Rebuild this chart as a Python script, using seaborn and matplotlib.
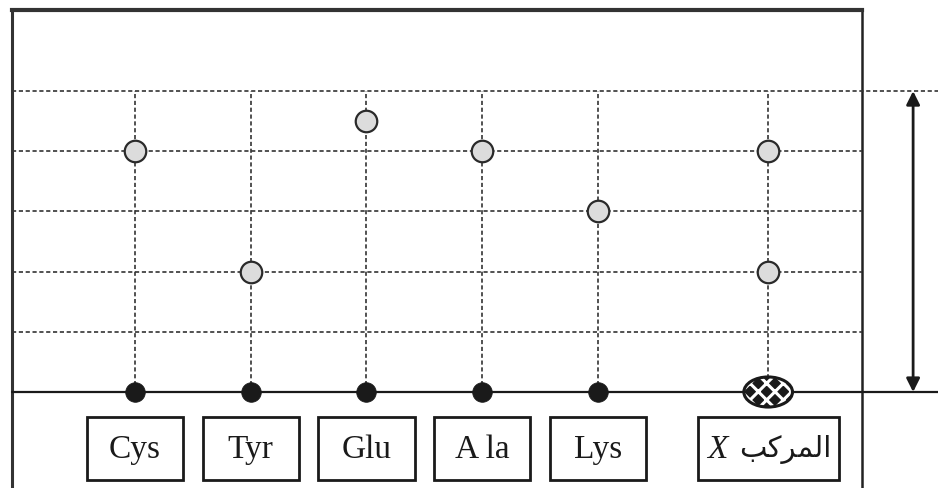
import numpy as np
import pandas as pd
import seaborn as sns
import matplotlib.pyplot as plt
from matplotlib.patches import Ellipse, Rectangle

# amino acid standards and the unknown compound X
amino_acids = ["Cys", "Tyr", "Glu", "Ala", "Lys"]
box_labels = ["Cys", "Tyr", "Glu", "A la", "Lys"]
rf_standards = [0.8, 0.4, 0.9, 0.8, 0.6]
unknown_label = "X"
unknown_arabic = "المركب"
rf_unknown = [0.8, 0.4]
grid_levels = [0.2, 0.4, 0.6, 0.8, 1.0]

sns.set_theme(style="white")
plt.rcParams["font.family"] = ["Liberation Serif", "DejaVu Sans"]
plt.rcParams["hatch.linewidth"] = 2.2

# x positions: standards side by side, the unknown a bit further right
xpos = np.arange(len(amino_acids), dtype=float)
x_unknown = len(amino_acids) - 1 + 1.47

std = pd.DataFrame({"aa": amino_acids, "x": xpos, "rf": rf_standards})
unk = pd.DataFrame({"x": [x_unknown] * len(rf_unknown), "rf": rf_unknown})

fig = plt.figure(figsize=(9.38, 4.89), dpi=100)
ax = fig.add_axes([0, 0, 1, 1])
ax.set_xlim(-1.166, 6.937)
ax.set_ylim(-0.319, 1.306)
ax.axis("off")

ink = "#1a1a1a"
frame_l, frame_r, frame_t = -1.063, 6.281, 1.269

# paper frame
ax.plot([frame_l, frame_l], [-0.4, frame_t], color="#333", lw=2.2, solid_capstyle="butt")
ax.plot([frame_r, frame_r], [-0.4, frame_t], color="#222", lw=1.8, solid_capstyle="butt")
ax.plot([frame_l, frame_r], [frame_t, frame_t], color="#333", lw=3, solid_capstyle="projecting")

# dashed grid
for lv in grid_levels:
    right = 7.0 if lv == 1.0 else frame_r
    ax.plot([frame_l, right], [lv, lv], color="#333", lw=1.2, dashes=(2.5, 1.6))
for x in list(xpos) + [x_unknown]:
    ax.plot([x, x], [0, 1.0], color="#333", lw=1.2, dashes=(2.5, 1.6))

# baseline
ax.plot([frame_l, 7.0], [0, 0], color=ink, lw=1.6)

# solvent front arrow
ax.annotate("", xy=(6.722, 1.0), xytext=(6.722, 0.0),
            arrowprops=dict(arrowstyle="<|-|>", color=ink, lw=2,
                            mutation_scale=20, shrinkA=0, shrinkB=0))

# spots
sns.scatterplot(data=std, x="x", y=np.zeros(len(std)), ax=ax, s=200,
                color=ink, edgecolor=ink, linewidth=0.5, zorder=5)
sns.scatterplot(data=std, x="x", y="rf", ax=ax, s=240, color="#dcdcdc",
                edgecolor="#2a2a2a", linewidth=1.6, zorder=5)
sns.scatterplot(data=unk, x="x", y="rf", ax=ax, s=240, color="#dcdcdc",
                edgecolor="#2a2a2a", linewidth=1.6, zorder=5)

# mixed origin spot of X
ax.add_patch(Ellipse((x_unknown, 0), 0.42, 0.1, facecolor=ink, edgecolor="white",
                     hatch="xx", lw=0, zorder=5))
ax.add_patch(Ellipse((x_unknown, 0), 0.42, 0.1, fill=False, edgecolor=ink,
                     lw=2.2, zorder=6))

# label boxes
box_top, box_bot = -0.083, -0.292
box_mid = (box_top + box_bot) / 2
for x, lab in zip(xpos, box_labels):
    ax.add_patch(Rectangle((x - 0.415, box_bot), 0.83, box_top - box_bot,
                           fill=False, edgecolor=ink, lw=2))
    ax.text(x, box_mid, lab, ha="center", va="center", fontsize=24, color=ink)

ax.add_patch(Rectangle((x_unknown - 0.61, box_bot), 1.22, box_top - box_bot,
                       fill=False, edgecolor=ink, lw=2))
# Arabic shaped into presentation forms, visual order for left-to-right drawing
shaped = "\ufe90\ufedb\ufeae\ufee4\ufedf\ufe8d"
ax.text(x_unknown - 0.44, box_mid, unknown_label, ha="center", va="center",
        fontsize=24, style="italic", color=ink)
ax.text(x_unknown + 0.15, box_mid, shaped, ha="center", va="center",
        fontsize=21, color=ink, family=["DejaVu Sans"])

fig.savefig("out.png", dpi=100, facecolor="white")
